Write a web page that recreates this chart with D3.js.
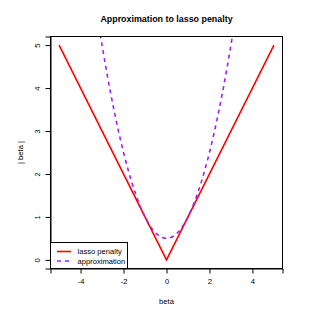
<!DOCTYPE html>
<html><head><meta charset="utf-8">
<script src="https://cdnjs.cloudflare.com/ajax/libs/d3/7.8.5/d3.min.js"></script>
<style>body{margin:0;background:#fff}svg{display:block;font-family:"Liberation Sans",Arial,sans-serif}</style>
</head><body>
<script>
const titleText = "Approximation to lasso penalty";
const xLabel = "beta";
const yLabel = "| beta |";
const xTicks = [-4, -2, 0, 2, 4];
const yTicks = [0, 1, 2, 3, 4, 5];
const lassoBeta = [-5, 0, 5];
const lassoValue = [5, 0, 5];
const approxBeta = [-3.2,-3.0,-2.8,-2.6,-2.4,-2.2,-2.0,-1.8,-1.6,-1.4,-1.2,-1.0,-0.8,-0.6,-0.4,-0.2,0,0.2,0.4,0.6,0.8,1.0,1.2,1.4,1.6,1.8,2.0,2.2,2.4,2.6,2.8,3.0,3.2];
const approxValue = [5.62,5.0,4.42,3.88,3.38,2.92,2.5,2.12,1.78,1.48,1.22,1.0,0.82,0.68,0.58,0.52,0.5,0.52,0.58,0.68,0.82,1.0,1.22,1.48,1.78,2.12,2.5,2.92,3.38,3.88,4.42,5.0,5.62];
const legendLabels = ["lasso penalty", "approximation"];
const colors = ["#FF0000", "#A020F0"];

const W = 315, H = 315;
const L = 50.5, R = 282.5, T = 36.5, B = 268.5;
const FS = 7.6;
const svg = d3.select("body").append("svg").attr("width", W).attr("height", H);
const x = d3.scaleLinear().domain([-5.4, 5.4]).range([L, R]);
const y = d3.scaleLinear().domain([-0.2, 5.2]).range([B, T]);

svg.append("defs").append("clipPath").attr("id", "clip")
  .append("rect").attr("x", L).attr("y", T).attr("width", R - L).attr("height", B - T);

const g = svg.append("g").attr("clip-path", "url(#clip)");
const line = d3.line().x(d => x(d[0])).y(d => y(d[1]));
g.append("path").datum(lassoBeta.map((b, i) => [b, lassoValue[i]]))
  .attr("d", line).attr("fill", "none").attr("stroke", colors[0]).attr("stroke-width", 1.6);
g.append("path").datum(approxBeta.map((b, i) => [b, approxValue[i]]))
  .attr("d", d3.line().curve(d3.curveCatmullRom).x(d => x(d[0])).y(d => y(d[1])))
  .attr("fill", "none").attr("stroke", colors[1]).attr("stroke-width", 1.6).attr("stroke-dasharray", "4,4");

// box
svg.append("rect").attr("x", L).attr("y", T).attr("width", R - L).attr("height", B - T)
  .attr("fill", "none").attr("stroke", "#000").attr("stroke-width", 1);

// axes
const xa = svg.append("g").attr("transform", `translate(0,${B})`)
  .call(d3.axisBottom(x).tickValues(xTicks).tickSize(5).tickPadding(5).tickFormat(d => String(d)));
const ya = svg.append("g").attr("transform", `translate(${L},0)`)
  .call(d3.axisLeft(y).tickValues(yTicks).tickSize(5).tickPadding(4).tickFormat(d => String(d)));
[xa, ya].forEach(a => {
  a.select(".domain").attr("stroke", "#000");
  a.selectAll("text").attr("font-size", FS).attr("fill", "#000").attr("font-family", "Liberation Sans, Arial, sans-serif");
});
ya.selectAll(".tick text").attr("text-anchor", "middle").attr("dy", 0).attr("x", 0).attr("y", 0)
  .attr("transform", "translate(-10.5,0) rotate(-90)");

// titles
svg.append("text").attr("x", (L + R) / 2).attr("y", 22).attr("text-anchor", "middle")
  .attr("font-weight", "bold").attr("font-size", 8.9).text(titleText);
svg.append("text").attr("x", (L + R) / 2).attr("y", 304).attr("text-anchor", "middle")
  .attr("font-size", FS).text(xLabel);
svg.append("text").attr("transform", `translate(23,${(T + B) / 2}) rotate(-90)`).attr("text-anchor", "middle")
  .attr("font-size", FS).text(yLabel);

// legend
const lg = svg.append("g");
lg.append("rect").attr("x", L).attr("y", 242.5).attr("width", 127.5 - L).attr("height", B - 242.5)
  .attr("fill", "#fff").attr("stroke", "#000").attr("stroke-width", 1);
legendLabels.forEach((lab, i) => {
  const yy = 251.5 + i * 9.5;
  lg.append("line").attr("x1", 57).attr("x2", 71).attr("y1", yy).attr("y2", yy)
    .attr("stroke", colors[i]).attr("stroke-width", 1.6).attr("stroke-dasharray", i ? "4,4" : null);
  lg.append("text").attr("x", 77.5).attr("y", yy + 2.8).attr("font-size", FS).text(lab);
});
</script>
</body></html>
